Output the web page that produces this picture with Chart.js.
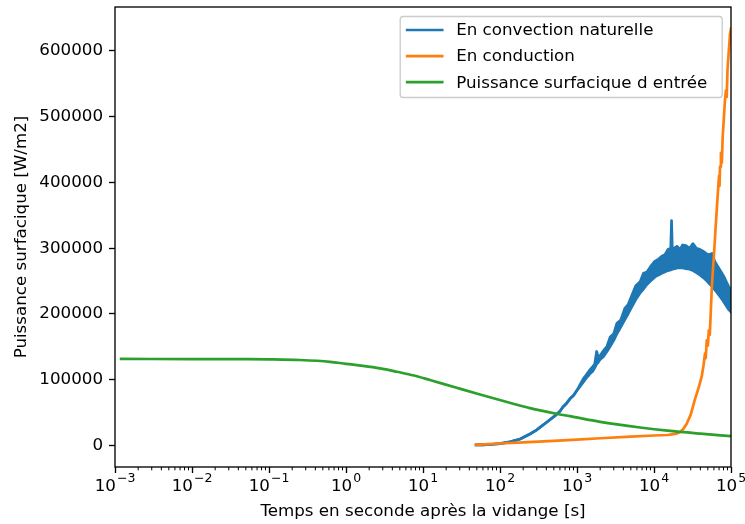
<!DOCTYPE html>
<html>
<head>
<meta charset="utf-8">
<script src="https://cdn.jsdelivr.net/npm/chart.js@4/dist/chart.umd.min.js"></script>
<style>
  html, body { margin: 0; padding: 0; background: #ffffff; }
  canvas { display: block; }
</style>
</head>
<body>
<canvas id="chart" width="745" height="524"></canvas>
<script>
// Series names
const seriesNames = ['En convection naturelle', 'En conduction', "Puissance surfacique d entrée"];

// Natural convection: time [s], lower and upper edge of the oscillating signal [W/m2]
const blueT = [49, 60, 74, 100, 135, 183, 245, 290, 330, 416, 540, 600, 660, 730, 810, 900, 1000,
  1100, 1200, 1330, 1470, 1600, 1700, 1800, 1900, 2000, 2200, 2450, 2700, 3000, 3300, 3700, 4200,
  4600, 5100, 5800, 6600, 7300, 8100, 9000, 10200, 11300, 12600, 13800, 15100, 16500, 16900, 17300,
  18700, 20000, 21700, 23500, 26000, 29000, 32000, 35500, 39800, 44000, 48800, 52500, 56700, 61500,
  67600, 73500, 80000, 87000, 93000, 100000];
const blueLow = [800, 1000, 1500, 2800, 5500, 10000, 17500, 22500, 27500, 36500, 47000, 52000, 59000,
  64000, 71000, 76000, 84000, 90000, 96000, 103000, 109000, 113000, 118000, 124000, 127000, 131000,
  135000, 143000, 151000, 160000, 170000, 180000, 192000, 200000, 210000, 222000, 232000, 238000,
  245000, 250000, 256000, 259000, 262000, 264000, 266000, 267000, 268000, 268000, 269000, 270000,
  270000, 270000, 269000, 268000, 266000, 263000, 259000, 255000, 250000, 246000, 242000, 237000,
  231000, 225000, 219000, 212000, 207000, 203000];
const blueHigh = [800, 1000, 1500, 2800, 5500, 10000, 17500, 22500, 27500, 36500, 47000, 52000, 59000,
  64000, 71000, 76000, 84000, 93000, 101000, 108000, 115000, 120000, 124000, 143000, 133000, 137000,
  144000, 151000, 165000, 170000, 186000, 191000, 209000, 214000, 227000, 243000, 249000, 262000,
  264000, 272000, 280000, 283000, 288000, 290000, 298000, 300000, 342000, 296000, 301000, 303000,
  298000, 305000, 304000, 300000, 307000, 300000, 298000, 295000, 291000, 290000, 292000, 280000,
  272000, 265000, 258000, 249000, 242000, 236000];

// Conduction: time [s], power [W/m2]
const orangeT = [49, 70, 100, 200, 500, 1000, 2000, 5000, 10000, 15000, 18000, 20000, 22000, 24000,
  26600, 30000, 33700, 38000, 41700, 44000, 46000, 47000, 48400, 50000, 51500, 53000, 54500, 56300,
  58500, 60600, 63000, 65000, 68000, 70000, 71000, 72000, 74000, 76000, 78000, 80000, 83500, 86000,
  88000, 90000, 93000, 97000, 100000];
const orangeP = [1000, 2000, 3000, 4800, 7000, 9000, 11000, 13500, 15200, 16000, 17200, 18500, 21000,
  25000, 33000, 47000, 68500, 88000, 105000, 122000, 140000, 133000, 160000, 152000, 175000, 168000,
  200000, 240000, 270000, 297000, 330000, 355000, 390000, 410000, 395000, 424000, 445000, 430000,
  470000, 490000, 525000, 540000, 530000, 570000, 595000, 625000, 634000];

// Input surface power: time [s], power [W/m2]
const greenT = [0.0012, 0.01, 0.05, 0.1, 0.25, 0.62, 1, 1.66, 2.77, 4.59, 7.64, 12.3, 26, 55, 120,
  245, 540, 810, 2000, 6600, 15000, 40000, 100000];
const greenP = [131600, 131500, 131300, 131000, 130000, 127300, 124200, 121200, 117400, 112200,
  106500, 99600, 88500, 77500, 66500, 56800, 48300, 44600, 36000, 27400, 22500, 18000, 14300];

// Axis ticks
const xMajorTicks = [1e-3, 1e-2, 1e-1, 1e0, 1e1, 1e2, 1e3, 1e4, 1e5];
const xTickExponents = ['−3', '−2', '−1', '0', '1', '2', '3', '4', '5'];
const yTicks = [0, 100000, 200000, 300000, 400000, 500000, 600000];

const colors = { blue: '#1f77b4', orange: '#ff7f0e', green: '#2ca02c' };
const FONT = 'DejaVu Sans';
const FS = 16.7;
const FS_SUP = 12.5;

const pts = (xs, ys) => xs.map((x, i) => ({ x: x, y: ys[i] }));

// minor ticks of the log axis: 2..9 x 10^k
const xMinorTicks = [];
for (let k = 0; k < xMajorTicks.length - 1; k++) {
  for (let m = 2; m <= 9; m++) xMinorTicks.push(m * xMajorTicks[k]);
}

const lineStyle = {
  borderWidth: 2.7,
  pointRadius: 0,
  tension: 0,
  borderJoinStyle: 'round',
  borderCapStyle: 'square',
  clip: 0
};

const axesDecor = {
  id: 'axesDecor',
  afterDraw(chart) {
    const { ctx, chartArea: a, scales: { x } } = chart;
    ctx.save();
    // minor ticks
    ctx.strokeStyle = '#000';
    ctx.lineWidth = 1;
    ctx.beginPath();
    xMinorTicks.forEach(v => {
      const px = x.getPixelForValue(v);
      ctx.moveTo(px, a.bottom);
      ctx.lineTo(px, a.bottom + 3.3);
    });
    ctx.stroke();
    // frame
    ctx.lineWidth = 1.33;
    ctx.strokeRect(a.left, a.top, a.right - a.left, a.bottom - a.top);

    // x tick labels as powers of ten
    ctx.fillStyle = '#000';
    ctx.textBaseline = 'alphabetic';
    ctx.textAlign = 'left';
    const baseY = a.bottom + 23.5;
    xMajorTicks.forEach((v, i) => {
      const px = x.getPixelForValue(v);
      ctx.font = FS + 'px "' + FONT + '"';
      const w1 = ctx.measureText('10').width;
      ctx.font = FS_SUP + 'px "' + FONT + '"';
      const w2 = ctx.measureText(xTickExponents[i]).width;
      const start = px - (w1 + w2 + 1) / 2;
      ctx.font = FS + 'px "' + FONT + '"';
      ctx.fillText('10', start, baseY);
      ctx.font = FS_SUP + 'px "' + FONT + '"';
      ctx.fillText(xTickExponents[i], start + w1 + 1, baseY - 9);
    });

    // legend box
    const bx = a.right - 8.8, by = a.top + 9.5, bw = 322, bh = 81, r = 3;
    const x0 = bx - bw;
    ctx.beginPath();
    ctx.moveTo(x0 + r, by);
    ctx.lineTo(bx - r, by);
    ctx.arcTo(bx, by, bx, by + r, r);
    ctx.lineTo(bx, by + bh - r);
    ctx.arcTo(bx, by + bh, bx - r, by + bh, r);
    ctx.lineTo(x0 + r, by + bh);
    ctx.arcTo(x0, by + bh, x0, by + bh - r, r);
    ctx.lineTo(x0, by + r);
    ctx.arcTo(x0, by, x0 + r, by, r);
    ctx.closePath();
    ctx.fillStyle = 'rgba(255,255,255,0.8)';
    ctx.fill();
    ctx.strokeStyle = '#cccccc';
    ctx.lineWidth = 1.33;
    ctx.stroke();

    const entryColors = [colors.blue, colors.orange, colors.green];
    ctx.font = FS + 'px "' + FONT + '"';
    ctx.textBaseline = 'middle';
    ctx.textAlign = 'left';
    seriesNames.forEach((name, i) => {
      const yy = by + 13.5 + i * 26.1;
      ctx.strokeStyle = entryColors[i];
      ctx.lineWidth = 2.7;
      ctx.lineCap = 'square';
      ctx.beginPath();
      ctx.moveTo(x0 + 7, yy);
      ctx.lineTo(x0 + 42, yy);
      ctx.stroke();
      ctx.fillStyle = '#000';
      ctx.fillText(name, x0 + 56, yy + 1);
    });
    ctx.restore();
  }
};

new Chart(document.getElementById('chart'), {
  type: 'line',
  data: {
    datasets: [
      Object.assign({ label: seriesNames[0], data: pts(blueT, blueLow), borderColor: colors.blue,
        backgroundColor: colors.blue, fill: false, order: 2 }, lineStyle),
      Object.assign({ label: seriesNames[0] + ' (max)', data: pts(blueT, blueHigh), borderColor: colors.blue,
        backgroundColor: colors.blue, fill: 0, order: 2 }, lineStyle),
      Object.assign({ label: seriesNames[1], data: pts(orangeT, orangeP), borderColor: colors.orange,
        fill: false, order: 1 }, lineStyle),
      Object.assign({ label: seriesNames[2], data: pts(greenT, greenP), borderColor: colors.green,
        fill: false, order: 0 }, lineStyle, { cubicInterpolationMode: 'monotone' })
    ]
  },
  options: {
    responsive: false,
    animation: false,
    devicePixelRatio: 1,
    layout: { padding: { top: 7, right: 14, left: 0, bottom: 0 } },
    plugins: {
      legend: { display: false },
      tooltip: { enabled: false },
      filler: { propagate: false }
    },
    scales: {
      x: {
        type: 'logarithmic',
        min: 1e-3,
        max: 1e5,
        afterBuildTicks: s => { s.ticks = xMajorTicks.map(v => ({ value: v, major: true })); },
        afterFit: s => { s.height = 57; s.paddingLeft = 0; s.paddingRight = 0; },
        grid: { drawOnChartArea: false, drawTicks: true, tickLength: 6, tickColor: '#000', tickWidth: 1.33 },
        border: { display: false },
        ticks: {
          autoSkip: false, maxRotation: 0, minRotation: 0, padding: 4, color: '#000',
          font: { family: FONT, size: FS },
          callback: () => ''
        },
        title: {
          display: true, text: 'Temps en seconde après la vidange [s]', color: '#000',
          font: { family: FONT, size: FS }, padding: { top: 0, bottom: 2 }
        }
      },
      y: {
        type: 'linear',
        min: -32700,
        max: 666900,
        afterBuildTicks: s => { s.ticks = yTicks.map(v => ({ value: v })); },
        afterFit: s => { s.width = 115; s.paddingTop = 0; s.paddingBottom = 0; },
        grid: { drawOnChartArea: false, drawTicks: true, tickLength: 6, tickColor: '#000', tickWidth: 1.33 },
        border: { display: false },
        ticks: {
          padding: 6, color: '#000',
          font: { family: FONT, size: FS },
          callback: v => String(v)
        },
        title: {
          display: true, text: 'Puissance surfacique [W/m2]', color: '#000',
          font: { family: FONT, size: FS }, padding: { top: 12, bottom: 0 }
        }
      }
    }
  },
  plugins: [axesDecor]
});
</script>
</body>
</html>
